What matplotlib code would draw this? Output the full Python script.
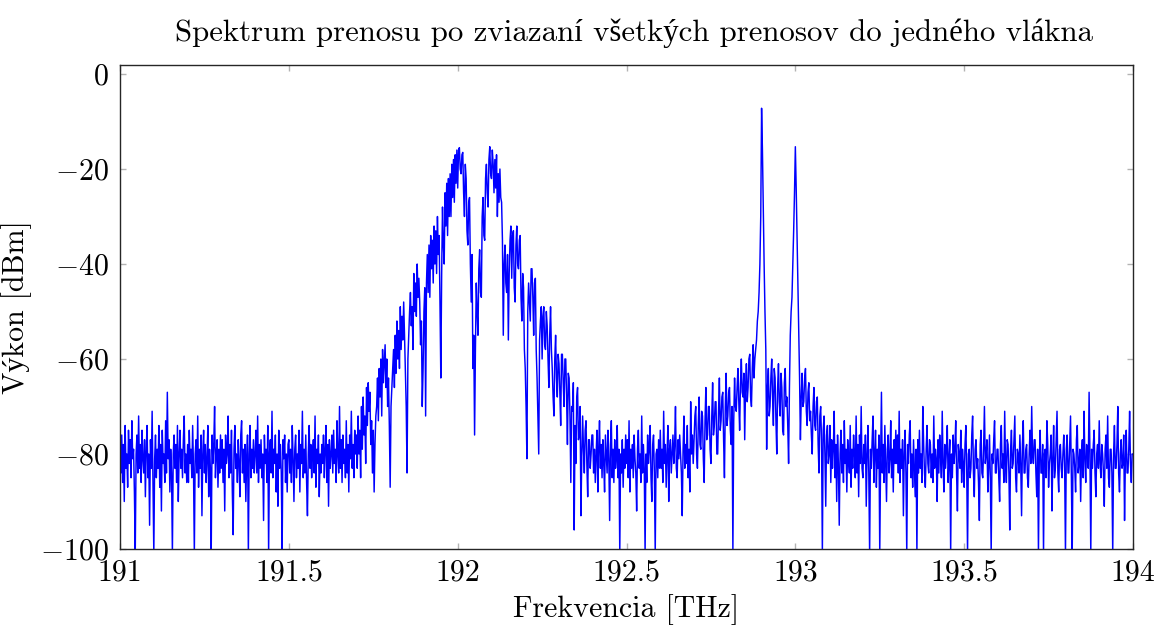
import matplotlib
matplotlib.use("Agg")
import matplotlib.pyplot as plt
from matplotlib.ticker import FormatStrFormatter
import numpy as np

plt.rcParams['font.family'] = ['cmr10', 'Liberation Serif']
plt.rcParams['mathtext.fontset'] = 'cm'
plt.rcParams['axes.formatter.use_mathtext'] = True

#
# Spectrum: one row per 0.1 THz, step 0.0025 THz
#
f_start = 191.0
f_step = 0.0025

power_rows = [
    # 191.0
    [-79,-84,-76,-86,-78,-90,-74,-83,-80,-87,-75,-82,-77,-85,-73,-81,-79,-88,-101,-80,
     -76,-84,-72,-83,-78,-86,-75,-81,-84,-77,-89,-79,-74,-85,-80,-95,-77,-83,-71,-86],
    # 191.1
    [-101,-81,-76,-85,-79,-83,-74,-87,-78,-92,-75,-82,-80,-86,-73,-84,-67,-81,-77,-88,
     -79,-84,-101,-80,-76,-83,-78,-86,-74,-90,-80,-75,-83,-79,-85,-77,-72,-84,-80,-86],
    # 191.2
    [-78,-86,-75,-82,-79,-85,-74,-83,-101,-80,-77,-84,-72,-87,-79,-83,-76,-93,-80,-75,
     -84,-78,-86,-81,-74,-89,-79,-83,-101,-76,-82,-78,-70,-85,-80,-77,-87,-79,-84,-76],
    # 191.3
    [-83,-77,-86,-79,-92,-76,-82,-80,-72,-85,-78,-84,-75,-88,-97,-79,-74,-83,-80,-86,
     -77,-82,-89,-76,-73,-84,-79,-86,-78,-90,-81,-76,-101,-80,-74,-85,-79,-83,-77,-84],
    # 191.4
    [-80,-75,-84,-72,-86,-78,-83,-77,-85,-80,-94,-76,-82,-79,-86,-74,-101,-80,-77,-84,
     -71,-85,-79,-82,-76,-88,-80,-91,-75,-83,-78,-84,-101,-77,-81,-76,-86,-80,-88,-78],
    # 191.5
    [-77,-84,-79,-86,-74,-81,-90,-79,-76,-85,-80,-83,-75,-88,-78,-82,-71,-85,-79,-84,
     -76,-86,-93,-80,-74,-83,-78,-85,-80,-77,-84,-72,-87,-79,-82,-76,-89,-80,-84,-78],
    # 191.6
    [-82,-76,-85,-79,-74,-86,-78,-91,-77,-83,-80,-76,-84,-75,-82,-79,-86,-73,-80,-84,
     -70,-83,-77,-86,-76,-82,-79,-85,-73,-84,-78,-88,-76,-81,-71,-83,-78,-85,-75,-80],
    # 191.7
    [-76,-83,-72,-80,-75,-85,-70,-79,-68,-76,-72,-82,-66,-74,-65,-71,-67,-78,-73,-84,
     -75,-88,-78,-72,-70,-64,-73,-62,-68,-60,-72,-58,-65,-61,-57,-66,-60,-70,-64,-74],
    # 191.8
    [-87,-70,-66,-62,-58,-66,-55,-63,-52,-60,-54,-62,-49,-58,-51,-56,-48,-55,-63,-70,
     -84,-60,-55,-50,-46,-53,-49,-58,-42,-50,-44,-51,-40,-47,-43,-48,-57,-52,-70,-62],
    # 191.9
    [-50,-45,-72,-44,-38,-46,-36,-47,-34,-41,-35,-44,-32,-40,-33,-42,-30,-38,-34,-48,
     -64,-42,-28,-36,-40,-25,-32,-23,-34,-22,-30,-21,-30,-19,-26,-18,-27,-17,-23,-16],
    # 192.0
    [-24,-16,-15.5,-20,-21,-17,-16.5,-25,-30,-19,-22,-33,-36,-27,-26,-40,-48,-38,-62,-55,
     -76,-58,-44,-50,-55,-41,-37,-46,-47,-30,-26,-34,-35,-22,-19,-25,-28,-18,-15.3,-21],
    # 192.1
    [-22,-16,-19,-25,-18,-24,-17,-30,-21,-27,-20,-26,-27,-35,-55,-40,-36,-44,-46,-38,
     -56,-42,-35,-32,-43,-34,-33,-45,-48,-36,-32,-40,-41,-35,-34,-47,-52,-42,-45,-58],
    # 192.2
    [-62,-70,-81,-50,-44,-48,-52,-41,-41,-47,-55,-44,-43,-58,-64,-72,-80,-56,-52,-49,
     -60,-51,-49,-57,-58,-50,-53,-60,-66,-55,-49,-58,-62,-68,-72,-60,-55,-64,-68,-59],
    # 192.3
    [-61,-67,-74,-59,-59,-65,-70,-60,-60,-68,-78,-63,-64,-72,-86,-70,-71,-65,-96,-74,
     -82,-68,-66,-77,-76,-70,-93,-80,-72,-79,-84,-75,-73,-82,-89,-77,-77,-83,-80,-76],
    # 192.4
    [-76,-84,-79,-86,-80,-75,-88,-79,-73,-83,-78,-85,-77,-82,-88,-76,-80,-84,-75,-81,
     -94,-78,-73,-85,-79,-86,-77,-83,-81,-74,-85,-79,-101,-80,-84,-77,-87,-79,-83,-76],
    # 192.5
    [-82,-77,-85,-73,-88,-79,-83,-78,-85,-76,-81,-84,-92,-79,-75,-83,-80,-86,-72,-84,
     -78,-83,-101,-80,-86,-76,-82,-79,-74,-85,-90,-78,-76,-84,-101,-80,-79,-85,-77,-83],
    # 192.6
    [-75,-83,-79,-86,-71,-82,-78,-87,-80,-74,-90,-79,-77,-84,-80,-76,-82,-78,-70,-83,
     -85,-77,-81,-76,-80,-84,-93,-79,-72,-83,-78,-82,-74,-85,-79,-88,-69,-80,-76,-82],
    # 192.7
    [-77,-72,-70,-80,-83,-74,-68,-78,-79,-71,-72,-81,-86,-73,-66,-77,-76,-70,-70,-79,
     -82,-72,-65,-76,-74,-69,-69,-80,-80,-71,-64,-75,-73,-68,-67,-77,-85,-70,-63,-74],
    # 192.8
    [-72,-67,-66,-75,-78,-70,-101,-73,-64,-70,-71,-66,-62,-69,-75,-65,-60,-67,-68,-63,
     -77,-66,-61,-69,-66,-60,-59,-68,-70,-62,-57,-64,-60,-58,-56,-52,-50,-46,-40,-30],
    # 192.9
    [-7.2,-16,-28,-40,-50,-58,-79,-66,-62,-72,-70,-64,-60,-68,-74,-62,-64,-73,-80,-66,
     -61,-69,-72,-63,-66,-75,-76,-65,-62,-70,-68,-74,-82,-66,-55,-50,-47,-40,-33,-25],
    # 193.0
    [-15.3,-24,-34,-45,-55,-64,-77,-68,-63,-70,-69,-64,-62,-71,-74,-67,-65,-73,-71,-76,
     -80,-70,-66,-74,-75,-69,-68,-78,-84,-72,-70,-77,-101,-75,-72,-80,-91,-76,-74,-82],
    # 193.1
    [-80,-74,-86,-77,-83,-79,-71,-85,-78,-90,-76,-82,-95,-80,-75,-84,-78,-86,-73,-82,
     -79,-88,-77,-81,-84,-74,-87,-79,-83,-76,-80,-85,-72,-84,-78,-89,-76,-82,-70,-83],
    # 193.2
    [-85,-78,-82,-76,-91,-80,-74,-84,-101,-79,-83,-77,-72,-86,-80,-75,-87,-79,-83,-76,
     -101,-81,-67,-84,-78,-86,-74,-82,-90,-79,-76,-84,-81,-73,-85,-79,-88,-77,-82,-75],
    # 193.3
    [-82,-76,-84,-71,-86,-79,-83,-77,-93,-80,-75,-84,-101,-78,-82,-76,-73,-85,-80,-87,
     -77,-83,-89,-79,-101,-77,-84,-75,-83,-80,-86,-70,-78,-84,-87,-79,-74,-82,-84,-77],
    # 193.4
    [-78,-85,-80,-86,-72,-83,-79,-81,-90,-77,-84,-76,-80,-85,-71,-82,-88,-78,-83,-79,
     -74,-86,-81,-77,-101,-80,-85,-76,-82,-79,-73,-84,-92,-78,-80,-83,-75,-86,-79,-82],
    # 193.5
    [-87,-78,-74,-83,-101,-80,-79,-85,-83,-76,-72,-84,-89,-79,-77,-83,-81,-86,-94,-78,
     -75,-84,-85,-79,-70,-82,-80,-77,-88,-83,-76,-85,-101,-80,-82,-77,-73,-84,-84,-79],
    # 193.6
    [-79,-85,-90,-78,-74,-83,-80,-86,-71,-82,-86,-77,-78,-84,-96,-79,-75,-83,-82,-77,
     -72,-85,-88,-79,-80,-84,-76,-82,-93,-78,-73,-84,-84,-79,-78,-85,-87,-80,-75,-82],
    # 193.7
    [-70,-80,-82,-77,-77,-84,-89,-79,-101,-81,-75,-84,-84,-78,-101,-80,-79,-85,-73,-78,
     -87,-82,-80,-76,-92,-81,-74,-85,-83,-77,-71,-84,-88,-79,-78,-83,-85,-80,-76,-82],
    # 193.8
    [-101,-79,-76,-84,-84,-78,-72,-85,-101,-79,-80,-83,-88,-77,-74,-84,-82,-79,-90,-80,
     -77,-85,-71,-81,-86,-78,-79,-83,-67,-80,-101,-79,-83,-78,-75,-84,-89,-80,-78,-83],
    # 193.9
    [-73,-82,-85,-78,-80,-84,-91,-79,-76,-83,-72,-85,-87,-79,-79,-84,-101,-80,-74,-83,
     -83,-78,-70,-84,-88,-80,-77,-83,-82,-76,-94,-81,-75,-84,-84,-79,-71,-82,-86,-80],
    # 194.0
    [-80],
]

for k, row in enumerate(power_rows[:-1]):
    assert len(row) == 40, (k, len(row))

power_dbm = np.concatenate(power_rows)
freq_thz = f_start + f_step*np.arange(len(power_dbm))

fig = plt.figure(figsize=(11.69, 6.30), dpi=100)
ax = fig.add_axes([0.1027, 0.1286, 0.8665, 0.7682])

ax.plot(freq_thz, power_dbm, color='#0000ff', linewidth=1.05)

ax.set_xlim(191, 194)
ax.set_ylim(-100, 1.9)
ax.set_xticks([191, 191.5, 192, 192.5, 193, 193.5, 194])
ax.set_yticks([0, -20, -40, -60, -80, -100])
ax.xaxis.set_major_formatter(FormatStrFormatter('%g'))

ax.tick_params(direction='in', top=True, right=True, length=4.5, width=1,
               color='0.7', labelsize=21.5)
ax.tick_params(axis='x', pad=7)
ax.tick_params(axis='y', pad=8)
for s in ax.spines.values():
    s.set_linewidth(1.0)
    s.set_color('0.15')

ax.set_xlabel('Frekvencia [THz]', fontsize=21.5, labelpad=6)
ax.set_ylabel('Výkon [dBm]', fontsize=21.5, labelpad=6)
ax.set_title('Spektrum prenosu po zviazaní všetkých prenosov do jedného vlákna',
             fontsize=22.2, pad=17, x=0.507)

fig.savefig('out.png', dpi=100)
